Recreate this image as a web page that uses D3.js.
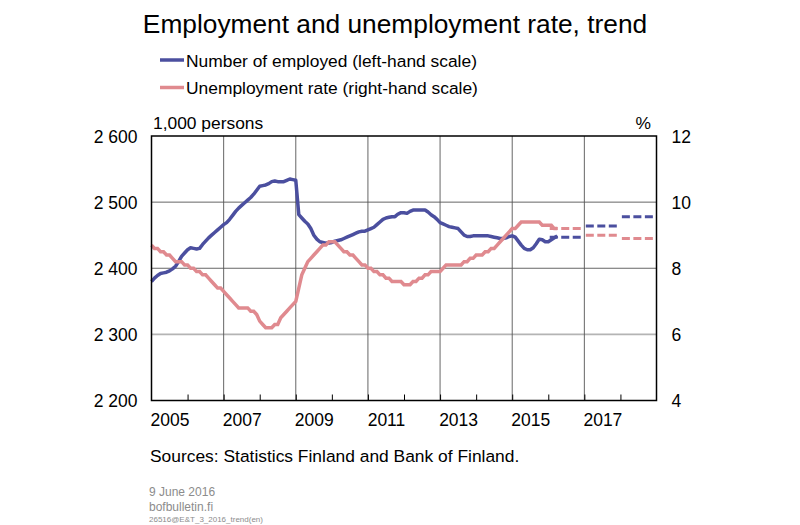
<!DOCTYPE html>
<html>

<head>
    <meta charset="utf-8">
    <title>Employment and unemployment rate, trend</title>
    <script src="https://d3js.org/d3.v7.min.js"></script>
    <style>
        body {
            margin: 0;
            background: #fff;
        }

        text {
            font-family: "Liberation Sans", Arial, sans-serif;
        }
    </style>
</head>

<body>
    <div id="chart"></div>
    <script>
        // monthly trend, Jan 2005 - Apr 2016
        var startYear = 2005;

        // number of employed, 1,000 persons
        var employed = [
            2380, 2385, 2389, 2392, 2393, 2394, 2396, 2399, 2403, 2410, 2418, 2423,
            2428, 2431, 2430, 2429, 2430, 2436, 2441, 2446, 2450, 2454, 2458, 2462,
            2466, 2469, 2474, 2480, 2486, 2491, 2495, 2499, 2503, 2507, 2512, 2518,
            2524, 2525, 2526, 2528, 2531, 2532, 2531, 2531, 2531, 2533, 2535, 2534,
            2533, 2481, 2476, 2471, 2467, 2460, 2450, 2444, 2440, 2439, 2438, 2438,
            2439, 2441, 2442, 2443, 2445, 2447, 2449, 2451, 2453, 2455, 2456, 2456,
            2458, 2460, 2462, 2466, 2470, 2474, 2476, 2477, 2478, 2478, 2482, 2484,
            2484, 2483, 2486, 2488, 2488, 2488, 2488, 2488, 2485, 2481, 2478, 2474,
            2469, 2467, 2465, 2463, 2462, 2461, 2460, 2455, 2450, 2448, 2448, 2449,
            2449, 2449, 2449, 2449, 2449, 2448, 2447, 2446, 2445, 2445, 2446, 2448,
            2449, 2447, 2441, 2435, 2430, 2428, 2428, 2431, 2437, 2444, 2443, 2440,
            2440, 2443, 2446, 2449
        ];

        // unemployment rate, %
        var unemployment = [
            8.7, 8.6, 8.6, 8.5, 8.5, 8.4, 8.4, 8.3, 8.2, 8.2, 8.2, 8.1,
            8.1, 8.0, 8.0, 7.9, 7.9, 7.8, 7.8, 7.7, 7.6, 7.5, 7.4, 7.4,
            7.3, 7.2, 7.1, 7.0, 6.9, 6.8, 6.8, 6.8, 6.8, 6.7, 6.7, 6.6,
            6.4, 6.3, 6.2, 6.2, 6.2, 6.3, 6.3, 6.5, 6.6, 6.7, 6.8, 6.9,
            7.0, 7.4, 7.8, 8.0, 8.2, 8.3, 8.4, 8.5, 8.6, 8.7, 8.7, 8.8,
            8.8, 8.8, 8.7, 8.6, 8.5, 8.5, 8.4, 8.4, 8.3, 8.2, 8.1, 8.1,
            8.0, 8.0, 7.9, 7.9, 7.8, 7.8, 7.7, 7.7, 7.6, 7.6, 7.6, 7.6,
            7.5, 7.5, 7.5, 7.6, 7.6, 7.7, 7.7, 7.8, 7.8, 7.9, 7.9, 7.9,
            7.9, 8.0, 8.1, 8.1, 8.1, 8.1, 8.1, 8.1, 8.2, 8.2, 8.3, 8.3,
            8.4, 8.4, 8.4, 8.5, 8.5, 8.6, 8.6, 8.7, 8.8, 8.9, 9.0, 9.1,
            9.2, 9.2, 9.3, 9.4, 9.4, 9.4, 9.4, 9.4, 9.4, 9.4, 9.3, 9.3,
            9.3, 9.3, 9.2, 9.2
        ];

        // Bank of Finland forecast, annual
        var forecastYears = [2016, 2017, 2018];
        var forecastEmployed = [2447, 2464, 2478];
        var forecastUnemployment = [9.2, 9.0, 8.9];

        var yearLabels = [2005, 2007, 2009, 2011, 2013, 2015, 2017];
        var leftTicks = [2200, 2300, 2400, 2500, 2600];
        var rightTicks = [4, 6, 8, 10, 12];

        var blue = "#4b4f9f",
            pink = "#e08a8f";

        // plot box (don't use "top" as a global, it's window.top)
        var W = 800, H = 525,
            pL = 151.5, pR = 656.5, pT = 136, pB = 400.5;

        var svg = d3.select("#chart").append("svg")
            .attr("width", W).attr("height", H);

        var x = d3.scaleLinear().domain([2005, 2019]).range([pL, pR]);
        var yL = d3.scaleLinear().domain([2200, 2600]).range([pB, pT]);
        var yR = d3.scaleLinear().domain([4, 12]).range([pB, pT]);

        // title + legend
        svg.append("text").attr("x", 395).attr("y", 33)
            .attr("text-anchor", "middle").attr("font-size", 26.3)
            .text("Employment and unemployment rate, trend");

        var legend = [
            { label: "Number of employed (left-hand scale)", color: blue, y: 60 },
            { label: "Unemployment rate (right-hand scale)", color: pink, y: 87.5 }
        ];
        legend.forEach(function (l) {
            svg.append("line").attr("x1", 160).attr("x2", 184).attr("y1", l.y).attr("y2", l.y)
                .attr("stroke", l.color).attr("stroke-width", 3.5);
            svg.append("text").attr("x", 186).attr("y", l.y + 6.5)
                .attr("font-size", 17.4).text(l.label);
        });

        svg.append("text").attr("x", 153).attr("y", 129).attr("font-size", 17.4).text("1,000 persons");
        svg.append("text").attr("x", 651).attr("y", 129).attr("font-size", 17.4)
            .attr("text-anchor", "end").text("%");

        // grid
        var grid = svg.append("g");
        grid.selectAll(".hg").data([2300, 2400, 2500]).enter().append("line")
            .attr("x1", pL).attr("x2", pR)
            .attr("y1", function (d) { return yL(d); }).attr("y2", function (d) { return yL(d); })
            .attr("stroke", function (d) { return d == 2300 ? "#b4b4b4" : "#555"; })
            .attr("stroke-width", function (d) { return d == 2300 ? 1.6 : 0.9; });
        grid.selectAll(".vg").data([2007, 2009, 2011, 2013, 2015, 2017]).enter().append("line")
            .attr("x1", function (d) { return x(d); }).attr("x2", function (d) { return x(d); })
            .attr("y1", pT).attr("y2", pB)
            .attr("stroke", "#555").attr("stroke-width", 0.9);

        // x axis: ticks at each year start, labels mid-year
        var xTicks = svg.append("g").attr("transform", "translate(0," + pB + ")")
            .call(d3.axisBottom(x).tickValues(d3.range(2006, 2019)).tickSize(-6).tickFormat(""));
        xTicks.select(".domain").remove();
        xTicks.selectAll("line").attr("stroke", "#000").attr("stroke-width", 1);

        var xLab = svg.append("g").attr("transform", "translate(0," + pB + ")")
            .call(d3.axisBottom(x).tickValues(yearLabels.map(function (y) { return y + 0.5; }))
                .tickSize(0).tickPadding(13).tickFormat(function (d) { return Math.floor(d); }));
        xLab.select(".domain").remove();
        xLab.selectAll("text").attr("font-size", 17.5).attr("fill", "#000")
            .attr("font-family", "Liberation Sans, Arial, sans-serif");

        var fmt = function (d) { return d3.format(",")(d).replace(",", " "); };
        var lAxis = svg.append("g").attr("transform", "translate(" + pL + ",0)")
            .call(d3.axisLeft(yL).tickValues(leftTicks).tickSize(0).tickPadding(14).tickFormat(fmt));
        lAxis.select(".domain").remove();
        lAxis.selectAll("text").attr("font-size", 17.5).attr("fill", "#000").attr("dy", "0.36em")
            .attr("font-family", "Liberation Sans, Arial, sans-serif");

        var rAxis = svg.append("g").attr("transform", "translate(" + pR + ",0)")
            .call(d3.axisRight(yR).tickValues(rightTicks).tickSize(0).tickPadding(15));
        rAxis.select(".domain").remove();
        rAxis.selectAll("text").attr("font-size", 17.5).attr("fill", "#000").attr("dy", "0.36em")
            .attr("font-family", "Liberation Sans, Arial, sans-serif");

        // monthly lines
        var t = function (i) { return startYear + i / 12; };
        var lineL = d3.line().x(function (d, i) { return x(t(i)); }).y(function (d) { return yL(d); });
        var lineR = d3.line().x(function (d, i) { return x(t(i)); }).y(function (d) { return yR(d); });

        // forecasts, one dashed step per year
        function dashes(vals, scale, color) {
            svg.append("g").selectAll("line").data(vals).enter().append("line")
                .attr("x1", function (d, i) { return x(forecastYears[i] + 0.04); })
                .attr("x2", function (d, i) { return x(forecastYears[i] + 0.9); })
                .attr("y1", function (d) { return scale(d); })
                .attr("y2", function (d) { return scale(d); })
                .attr("stroke", color).attr("stroke-width", 3)
                .attr("stroke-dasharray", "8,3.5");
        }
        dashes(forecastEmployed, yL, blue);
        dashes(forecastUnemployment, yR, pink);

        // pink sits on top of blue where they cross
        svg.append("path").datum(employed).attr("d", lineL)
            .attr("fill", "none").attr("stroke", blue).attr("stroke-width", 3.5)
            .attr("stroke-linejoin", "round");
        svg.append("path").datum(unemployment).attr("d", lineR)
            .attr("fill", "none").attr("stroke", pink).attr("stroke-width", 3.5);

        // frame
        svg.append("rect").attr("x", pL).attr("y", pT)
            .attr("width", pR - pL).attr("height", pB - pT)
            .attr("fill", "none").attr("stroke", "#000").attr("stroke-width", 1.5);

        // footer
        svg.append("text").attr("x", 150).attr("y", 462).attr("font-size", 17.4)
            .text("Sources: Statistics Finland and Bank of Finland.");
        svg.append("text").attr("x", 149).attr("y", 496).attr("font-size", 12).attr("fill", "#8c8c8c")
            .text("9 June 2016");
        svg.append("text").attr("x", 149).attr("y", 511).attr("font-size", 12).attr("fill", "#8c8c8c")
            .text("bofbulletin.fi");
        svg.append("text").attr("x", 149).attr("y", 522).attr("font-size", 8).attr("fill", "#8c8c8c")
            .text("26516@E&T_3_2016_trend(en)");
    </script>
</body>

</html>
